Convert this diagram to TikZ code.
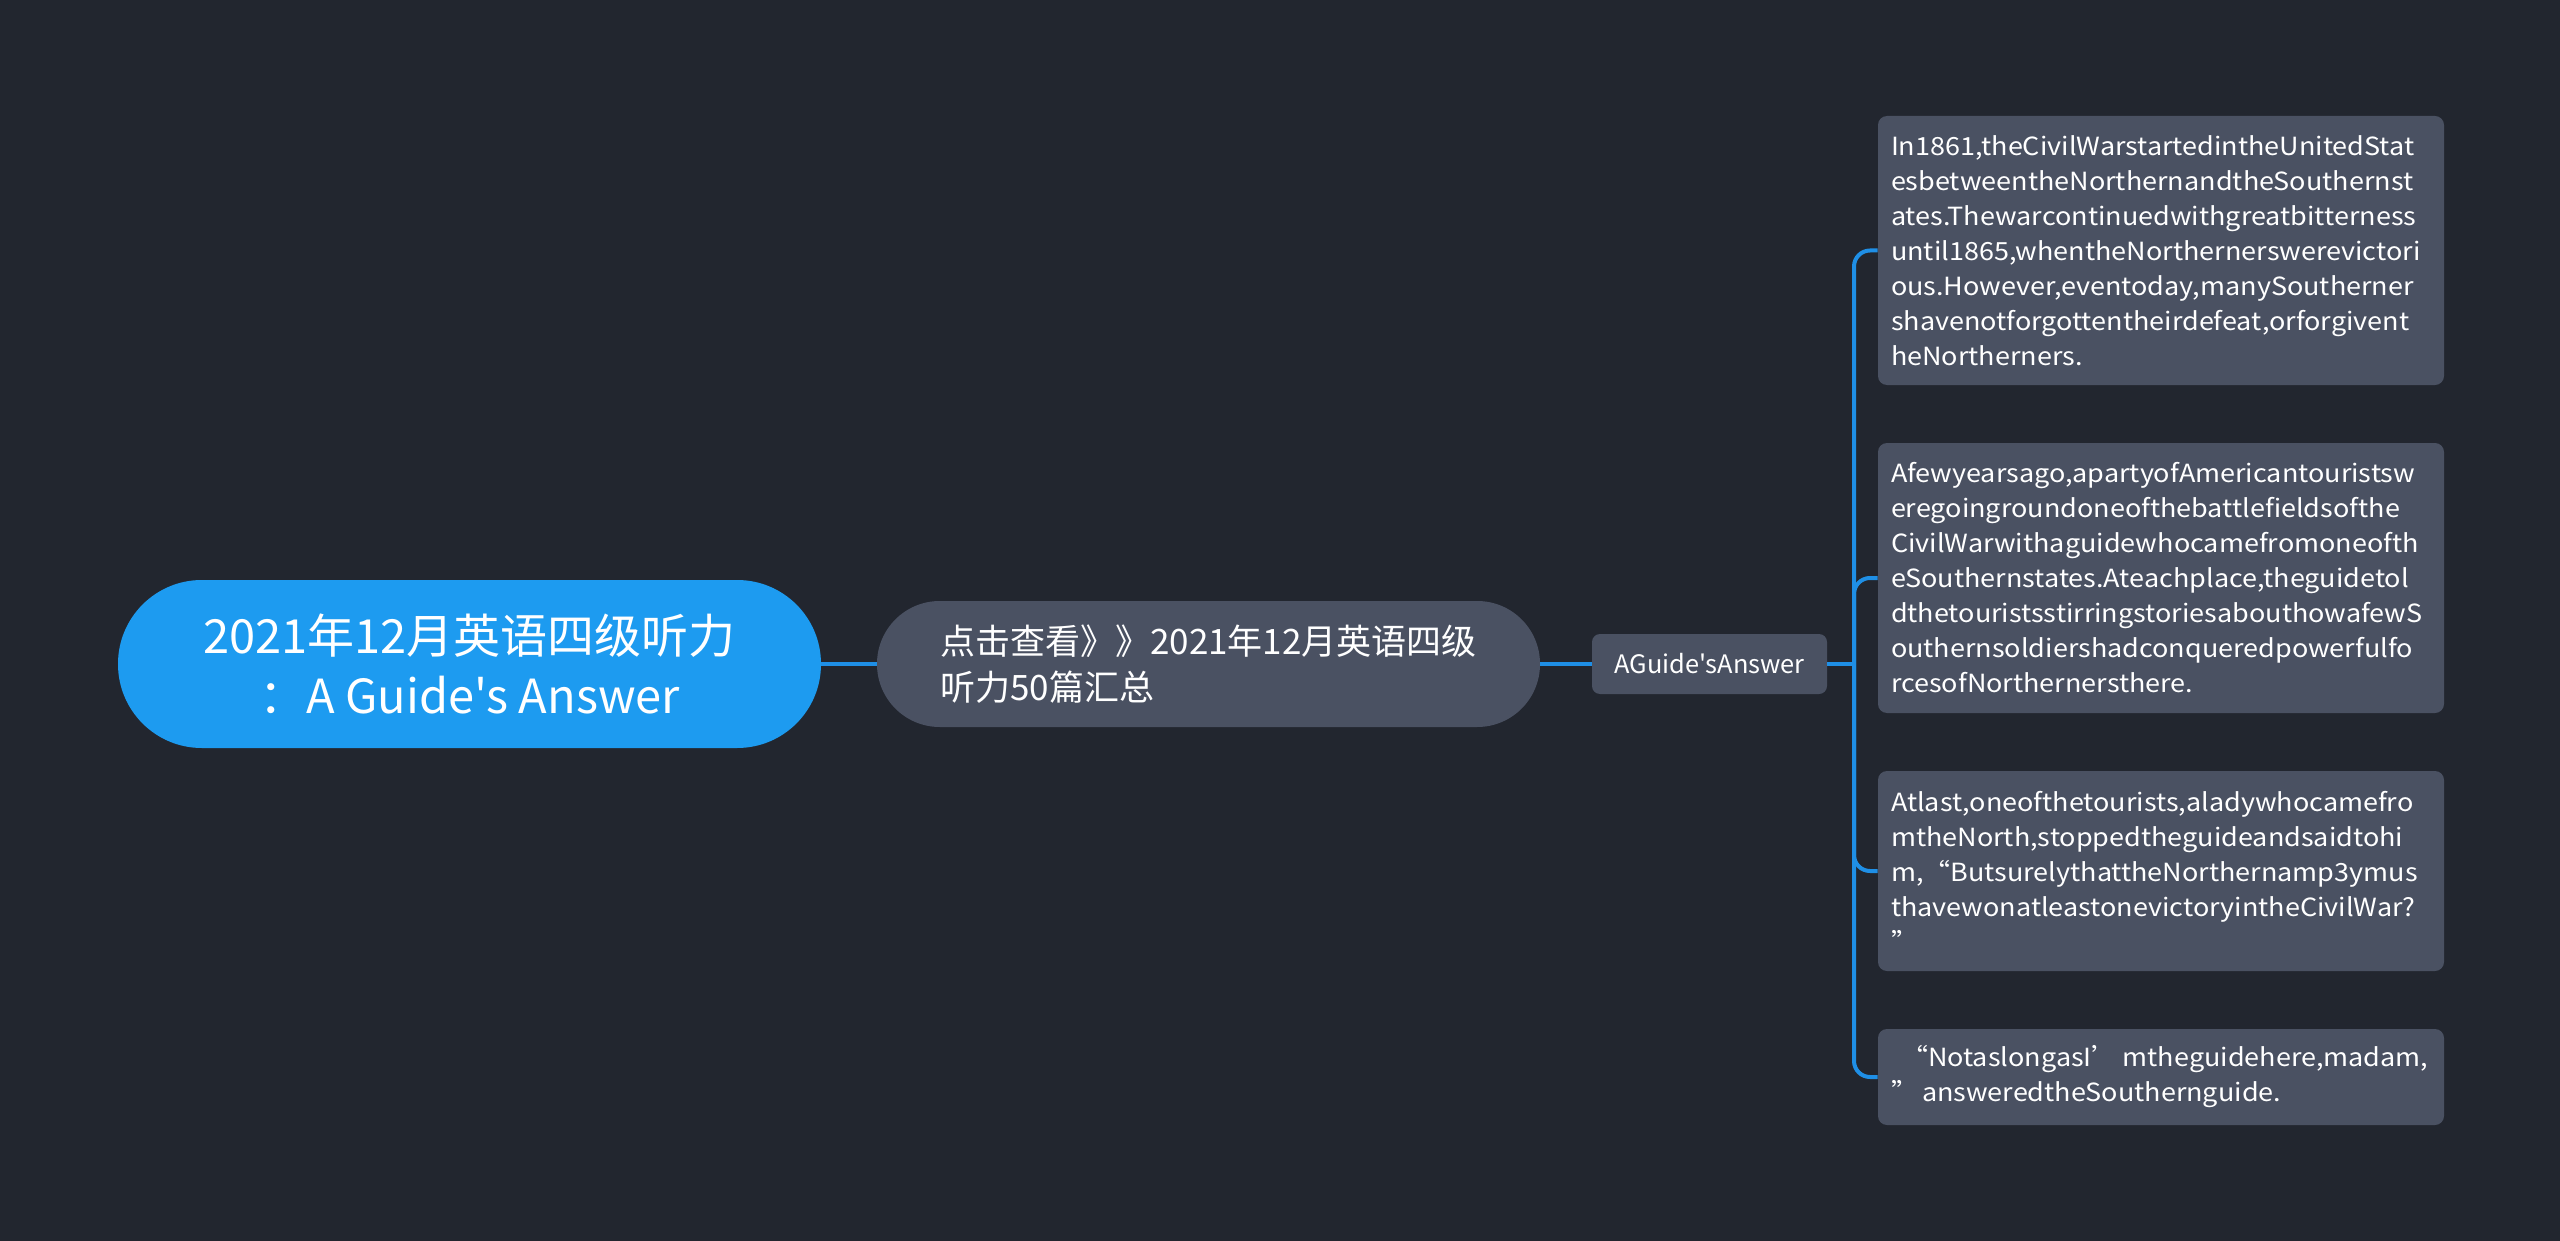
\documentclass[tikz,border=0pt]{standalone}
\usepackage{fontspec}
\newfontfamily\basefont{Noto Sans CJK SC}
\newfontfamily\leaffamily[FakeStretch=1.08]{Noto Sans CJK SC}
\hyphenpenalty=10000
\exhyphenpenalty=10000
\definecolor{bgc}{HTML}{22262F}
\definecolor{rootc}{HTML}{1D9BF0}
\definecolor{grayc}{HTML}{4A5162}
\definecolor{linec}{HTML}{1F8FE6}
\begin{document}
\begin{tikzpicture}[x=0.5pt,y=-0.5pt,
  rootbox/.style={fill=rootc,draw=none,text=white,rounded corners=41.9pt,
    minimum width=351.5pt,minimum height=84pt,inner sep=0pt,align=center,
    font=\basefont\fontsize{23.5pt}{30pt}\selectfont},
  midbox/.style={fill=grayc,draw=none,text=white,rounded corners=31.4pt,
    minimum width=331.5pt,minimum height=63pt,inner sep=0pt,align=left,
    font=\basefont\fontsize{17.5pt}{23pt}\selectfont},
  tagbox/.style={fill=grayc,draw=none,text=white,rounded corners=4pt,
    minimum width=117.5pt,minimum height=30pt,inner sep=0pt,
    font=\basefont\fontsize{12.7pt}{15pt}\selectfont},
  leafbox/.style={fill=grayc,draw=none,text=white,rounded corners=4.5pt,
    minimum width=283pt,inner xsep=6.5pt,inner ysep=0pt,text width=270pt,align=left,
    font=\leaffamily\fontsize{12.5pt}{17.5pt}\selectfont},
  conn/.style={draw=linec,line width=2pt}
]
\fill[bgc] (0,0) rectangle (2560,1241);
\useasboundingbox (0,0) rectangle (2560,1241);

\node[rootbox] (root) at (469.5,664) {2021年12月英语四级听力\\：A Guide's Answer};
\node[midbox] (mid) at (1208.5,664) {点击查看》》2021年12月英语四级\\听力50篇汇总};
\node[tagbox] (tag) at (1709.5,664) {AGuide'sAnswer};

\node[leafbox,minimum height=134.5pt] (l1) at (2161,250.5) {In1861,theCivilWarstartedintheUnitedStat\\esbetweentheNorthernandtheSouthernst\\ates.Thewarcontinuedwithgreatbitterness\\until1865,whentheNorthernerswerevictori\\ous.However,eventoday,manySoutherner\\shavenotforgottentheirdefeat,orforgivent\\heNortherners.};
\node[leafbox,minimum height=135pt] (l2) at (2161,578) {Afewyearsago,apartyofAmericantouristsw\\eregoingroundoneofthebattlefieldsofthe\\CivilWarwithaguidewhocamefromoneofth\\eSouthernstates.Ateachplace,theguidetol\\dthetouristsstirringstoriesabouthowafewS\\outhernsoldiershadconqueredpowerfulfo\\rcesofNorthernersthere.};
\node[leafbox,minimum height=100pt] (l3) at (2161,871) {Atlast,oneofthetourists,aladywhocamefro\\mtheNorth,stoppedtheguideandsaidtohi\\m,“ButsurelythattheNorthernamp3ymus\\thavewonatleastonevictoryintheCivilWar?\\”};
\node[leafbox,minimum height=48pt] (l4) at (2161,1077) {\mbox{\hspace*{5pt}“NotaslongasI’\hspace{2pt}mtheguidehere,madam,}\\\mbox{”\hspace{2pt}answeredtheSouthernguide.}};

\coordinate (bx) at (1854,664);
\draw[conn] (root.east) -- (mid.west);
\draw[conn] (mid.east) -- (tag.west);
\draw[conn] (tag.east) -- (bx);
\draw[conn,rounded corners=8pt] (l1.west) -| (bx) |- (l4.west);
\draw[conn,rounded corners=8pt] (bx) |- (l2.west);
\draw[conn,rounded corners=8pt] (bx) |- (l3.west);
\end{tikzpicture}
\end{document}
